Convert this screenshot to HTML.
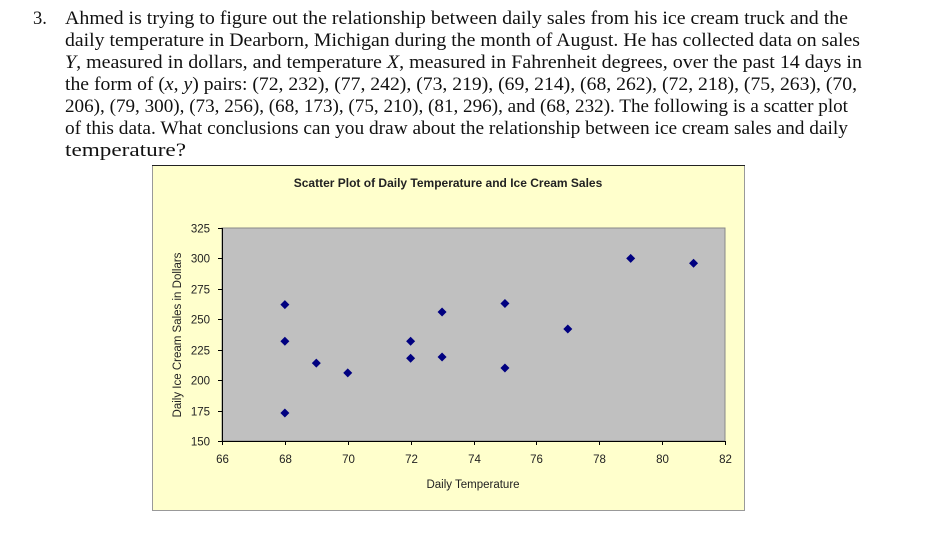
<!DOCTYPE html>
<html><head><meta charset="utf-8"><style>
body{margin:0;background:#fff;width:937px;height:550px;overflow:hidden}
svg{display:block}
</style></head><body>
<svg width="937" height="550" viewBox="0 0 937 550">
<g font-family="'Liberation Serif',serif" font-size="18.5" fill="#111">
<text x="33" y="24">3.</text>
<text x="65" y="24" textLength="783" lengthAdjust="spacingAndGlyphs">Ahmed is trying to figure out the relationship between daily sales from his ice cream truck and the</text>
<text x="65" y="46" textLength="795" lengthAdjust="spacingAndGlyphs">daily temperature in Dearborn, Michigan during the month of August. He has collected data on sales</text>
<text x="65" y="68" textLength="797" lengthAdjust="spacingAndGlyphs"><tspan font-style="italic">Y</tspan>, measured in dollars, and temperature <tspan font-style="italic">X</tspan>, measured in Fahrenheit degrees, over the past 14 days in</text>
<text x="65" y="90" textLength="792" lengthAdjust="spacingAndGlyphs">the form of (<tspan font-style="italic">x</tspan>, <tspan font-style="italic">y</tspan>) pairs: (72, 232), (77, 242), (73, 219), (69, 214), (68, 262), (72, 218), (75, 263), (70,</text>
<text x="65" y="112" textLength="783" lengthAdjust="spacingAndGlyphs">206), (79, 300), (73, 256), (68, 173), (75, 210), (81, 296), and (68, 232). The following is a scatter plot</text>
<text x="65" y="134" textLength="783" lengthAdjust="spacingAndGlyphs">of this data. What conclusions can you draw about the relationship between ice cream sales and daily</text>
<text x="65" y="156" textLength="121" lengthAdjust="spacingAndGlyphs">temperature?</text>
</g>
<rect x="152.5" y="165.5" width="592" height="345" fill="#ffffcc" stroke="#999"/>
<line x1="152" y1="165.5" x2="745" y2="165.5" stroke="#222"/>
<text x="448" y="187" text-anchor="middle" font-family="'Liberation Sans',sans-serif" font-size="12" font-weight="bold" fill="#222">Scatter Plot of Daily Temperature and Ice Cream Sales</text>
<rect x="222" y="228" width="503" height="213" fill="#c0c0c0" stroke="#888"/>
<g id="axes" font-family="'Liberation Sans',sans-serif" font-size="11.5" fill="#222"></g>
<text x="181" y="335" transform="rotate(-90 181 335)" text-anchor="middle" font-family="'Liberation Sans',sans-serif" font-size="11.5" fill="#222">Daily Ice Cream Sales in Dollars</text>
<text x="473" y="488" text-anchor="middle" font-family="'Liberation Sans',sans-serif" font-size="11.5" fill="#222">Daily Temperature</text>
<g id="points"></g>
</svg>
<script>
const temps = [72, 77, 73, 69, 68, 72, 75, 70, 79, 73, 68, 75, 81, 68];
const sales = [232, 242, 219, 214, 262, 218, 263, 206, 300, 256, 173, 210, 296, 232];
const xTicks = [66, 68, 70, 72, 74, 76, 78, 80, 82];
const yTicks = [150, 175, 200, 225, 250, 275, 300, 325];
const X0=222, X1=725, Y0=441, Y1=228;
const xs = v => X0 + (v-66)/(82-66)*(X1-X0);
const ys = v => Y0 - (v-150)/(325-150)*(Y0-Y1);
const NS='http://www.w3.org/2000/svg';
const axes=document.getElementById('axes');
function mk(tag, attrs, parent){const e=document.createElementNS(NS,tag);for(const k in attrs)e.setAttribute(k,attrs[k]);parent.appendChild(e);return e;}
let l=mk('line',{x1:X0,y1:Y0+0.5,x2:X1,y2:Y0+0.5,stroke:'#000'},axes);


l=mk('line',{x1:X0+0.5,y1:Y1,x2:X0+0.5,y2:Y0,stroke:'#000'},axes);


xTicks.forEach(t=>{
  const x=Math.round(xs(t))+0.5;
  mk('line',{x1:x,y1:Y0,x2:x,y2:Y0+4,stroke:'#000'},axes);
  const tx=mk('text',{x:x,y:Y0+22,'text-anchor':'middle'},axes);
  tx.textContent=t;
  
  
});
yTicks.forEach(t=>{
  const y=Math.round(ys(t))+0.5;
  mk('line',{x1:X0-4,y1:y,x2:X0,y2:y,stroke:'#000'},axes);
  const tx=mk('text',{x:X0-12,y:y+4,'text-anchor':'end'},axes);
  tx.textContent=t;
  
  
});
const pts=document.getElementById('points');
temps.forEach((t,i)=>{
  const cx=xs(t), cy=ys(sales[i]);
  const p=mk('polygon',{points:`${cx},${cy-4.5} ${cx+4.5},${cy} ${cx},${cy+4.5} ${cx-4.5},${cy}`,fill:'#000080'},pts);
  
  
});
</script>
</body></html>
